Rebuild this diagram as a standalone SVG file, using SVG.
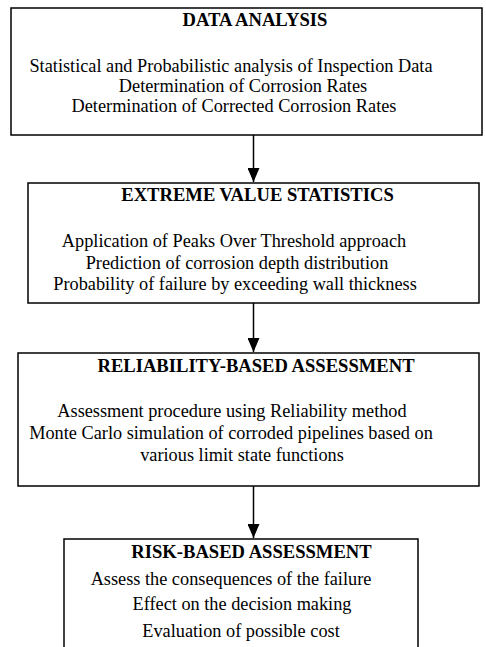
<svg xmlns="http://www.w3.org/2000/svg" width="486" height="647" viewBox="0 0 486 647">
<defs>
<style>
.box{fill:#fff;stroke:#000;stroke-width:1.5}
.t{font-family:"Liberation Serif","Times New Roman",serif;font-size:18.3px;fill:#000;text-anchor:middle}
.h{font-weight:bold;font-size:18.6px}
.c{stroke:#000;stroke-width:1.5;fill:none}
</style>
<marker id="ah" markerWidth="14" markerHeight="12" refX="14" refY="6" orient="auto" markerUnits="userSpaceOnUse">
<path d="M0,0 L14,6 L0,12 Z" fill="#000"/>
</marker>
</defs>
<rect width="486" height="647" fill="#fff"/>
<g id="connectors">
<line class="c" x1="253.5" y1="135" x2="253.5" y2="182" marker-end="url(#ah)"/>
<line class="c" x1="253.5" y1="303" x2="253.5" y2="352" marker-end="url(#ah)"/>
<line class="c" x1="253.5" y1="486" x2="253.5" y2="538" marker-end="url(#ah)"/>
</g>
<g id="data-analysis">
<rect class="box" x="11" y="8" width="471" height="127"/>
<text class="t h" x="255" y="26">DATA ANALYSIS</text>
<text class="t" x="231" y="72">Statistical and Probabilistic analysis of Inspection Data</text>
<text class="t" x="243" y="92">Determination of Corrosion Rates</text>
<text class="t" x="234" y="112">Determination of Corrected Corrosion Rates</text>
</g>
<g id="extreme-value">
<rect class="box" x="28" y="183" width="451" height="120"/>
<text class="t h" x="257.5" y="201">EXTREME VALUE STATISTICS</text>
<text class="t" x="234" y="247">Application of Peaks Over Threshold approach</text>
<text class="t" x="237" y="269">Prediction of corrosion depth distribution</text>
<text class="t" x="235" y="290">Probability of failure by exceeding wall thickness</text>
</g>
<g id="reliability">
<rect class="box" x="18" y="353" width="461" height="133"/>
<text class="t h" x="256" y="372">RELIABILITY-BASED ASSESSMENT</text>
<text class="t" x="232" y="417">Assessment procedure using Reliability method</text>
<text class="t" x="231" y="439">Monte Carlo simulation of corroded pipelines based on</text>
<text class="t" x="242" y="461">various limit state functions</text>
</g>
<g id="risk">
<rect class="box" x="64" y="539" width="354" height="120"/>
<text class="t h" x="251.5" y="558">RISK-BASED ASSESSMENT</text>
<text class="t" x="231" y="585">Assess the consequences of the failure</text>
<text class="t" x="242" y="610">Effect on the decision making</text>
<text class="t" x="241" y="637">Evaluation of possible cost</text>
</g>
</svg>
